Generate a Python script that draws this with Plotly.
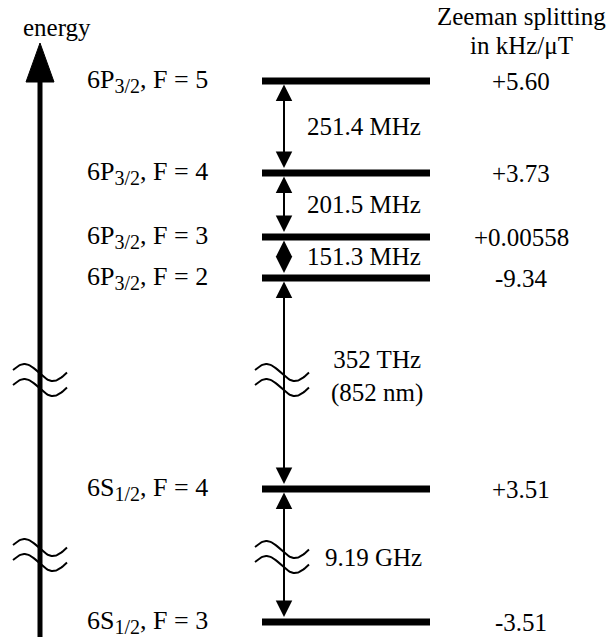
import numpy as np
import plotly.graph_objects as go

# Cs D2 line hyperfine structure
SUB = "<sub><span style='font-size:20px'>{}</span></sub>"
level_labels = [
    "6P" + SUB.format("3/2") + ", F = 5",
    "6P" + SUB.format("3/2") + ", F = 4",
    "6P" + SUB.format("3/2") + ", F = 3",
    "6P" + SUB.format("3/2") + ", F = 2",
    "6S" + SUB.format("1/2") + ", F = 4",
    "6S" + SUB.format("1/2") + ", F = 3",
]
zeeman_shifts = ["+5.60", "+3.73", "+0.00558", "-9.34", "+3.51", "-3.51"]
interval_labels = ["251.4 MHz", "201.5 MHz", "151.3 MHz", "352 THz<br>(852 nm)", "9.19 GHz"]

# schematic layout (diagram units = pixels, y grows downward)
LEVEL_Y = [81, 173, 237, 278, 489, 622]
BAR_X0, BAR_X1, BAR_W = 262, 430, 7
ARROW_X = 284
AXIS_X, AXIS_TOP, AXIS_BOTTOM = 40, 80, 637
HEAD_TIP, HEAD_HALF = 43, 14
BREAKS_AXIS = [380, 555]
BREAKS_ARROW = [380, 557]
INTERVAL_POS = [(305, 126, "left"), (305, 204, "left"), (305, 256, "left"),
                (377, 376, "center"), (323, 557, "left")]
LABEL_X = 85
ZEEMAN_X = 521
FONT = dict(family="Liberation Serif, Times New Roman, serif", size=25, color="black")
LABEL_FONT = dict(FONT, size=26)

fig = go.Figure()

# energy levels
for y in LEVEL_Y:
    fig.add_trace(go.Scatter(x=[BAR_X0, BAR_X1], y=[y, y], mode="lines",
                             line=dict(color="black", width=BAR_W), hoverinfo="skip"))

# energy axis with arrowhead
fig.add_trace(go.Scatter(x=[AXIS_X, AXIS_X], y=[AXIS_TOP, AXIS_BOTTOM], mode="lines",
                         line=dict(color="black", width=5), hoverinfo="skip"))
fig.add_trace(go.Scatter(x=[AXIS_X - HEAD_HALF, AXIS_X, AXIS_X + HEAD_HALF, AXIS_X - HEAD_HALF],
                         y=[AXIS_TOP + 2, HEAD_TIP, AXIS_TOP + 2, AXIS_TOP + 2],
                         mode="lines", fill="toself", fillcolor="black",
                         line=dict(color="black", width=1), hoverinfo="skip"))


def break_mark(xc, yc, half=27, amp=8.5, gap=15):
    t = np.linspace(0.3, 2 * np.pi, 60)
    xs = xc - half + (t - t[0]) / (t[-1] - t[0]) * 2 * half
    for dy in (-gap / 2, gap / 2):
        fig.add_trace(go.Scatter(x=xs, y=yc + dy - amp * np.sin(t), mode="lines",
                                 line=dict(color="black", width=2), hoverinfo="skip"))


# double-headed arrows between adjacent levels
annotations = []
for y_hi, y_lo in zip(LEVEL_Y[:-1], LEVEL_Y[1:]):
    annotations.append(dict(x=ARROW_X, y=y_hi, ax=ARROW_X, ay=y_lo, xref="x", yref="y",
                            axref="x", ayref="y", text="", showarrow=True,
                            arrowhead=2, startarrowhead=2, arrowside="end+start",
                            arrowwidth=2, arrowsize=1.65, startarrowsize=1.65,
                            standoff=BAR_W / 2, startstandoff=BAR_W / 2,
                            arrowcolor="black"))

for yc in BREAKS_AXIS:
    break_mark(AXIS_X, yc)
for yc in BREAKS_ARROW:
    break_mark(ARROW_X - 2, yc)

for lab, y in zip(level_labels, LEVEL_Y):
    annotations.append(dict(x=LABEL_X, y=y, text=lab, xanchor="left", yanchor="middle",
                            showarrow=False, font=LABEL_FONT))
for z, y in zip(zeeman_shifts, LEVEL_Y):
    annotations.append(dict(x=ZEEMAN_X, y=y, text=z, xanchor="center", yanchor="middle",
                            showarrow=False, font=FONT))
for lab, (x, y, anc) in zip(interval_labels, INTERVAL_POS):
    annotations.append(dict(x=x, y=y, text=lab, xanchor=anc, yanchor="middle",
                            showarrow=False, font=FONT))

annotations += [
    dict(x=ZEEMAN_X, y=16, text="Zeeman splitting", showarrow=False, font=FONT,
         xanchor="center", yanchor="middle"),
    dict(x=ZEEMAN_X, y=45, text="in kHz/μT", showarrow=False, font=FONT,
         xanchor="center", yanchor="middle"),
    dict(x=57, y=27, text="energy", showarrow=False, font=FONT,
         xanchor="center", yanchor="middle"),
]

fig.update_layout(
    width=611, height=642,
    margin=dict(l=0, r=0, t=0, b=0),
    paper_bgcolor="white", plot_bgcolor="white",
    showlegend=False,
    xaxis=dict(range=[0, 611], visible=False, fixedrange=True),
    yaxis=dict(range=[642, 0], visible=False, fixedrange=True),
    annotations=annotations,
)

fig.write_html("out.html")
